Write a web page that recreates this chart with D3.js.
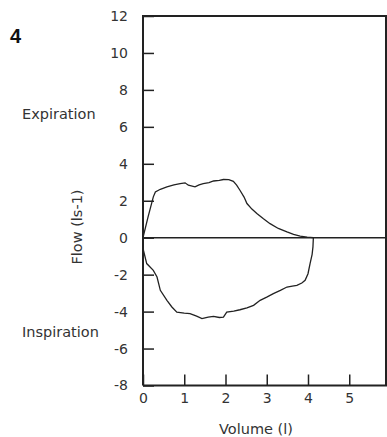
<!DOCTYPE html>
<html>
<head>
<meta charset="utf-8">
<script src="https://cdn.jsdelivr.net/npm/d3@7"></script>
<style>
body { margin: 0; background: #fff; }
svg { display: block; }
.axis text { font-family: "DejaVu Sans", sans-serif; font-size: 14px; fill: #333; }
.lbl { font-family: "DejaVu Sans", sans-serif; font-size: 14.5px; fill: #333; }
</style>
</head>
<body>
<script>
var w = 387;
var h = 437;

// flow-volume loop
var expVolume = [0, 0.12, 0.25, 0.30, 0.42, 0.58, 0.75, 0.90, 1.02, 1.10, 1.26, 1.36, 1.46, 1.60, 1.71, 1.85, 1.95, 2.08, 2.19, 2.27, 2.35, 2.45, 2.52, 2.64, 2.76, 2.92, 3.08, 3.28, 3.49, 3.65, 3.81, 3.98, 4.13];
var expFlow   = [0, 1.1, 2.21, 2.48, 2.62, 2.75, 2.86, 2.93, 2.97, 2.84, 2.75, 2.86, 2.93, 2.98, 3.07, 3.10, 3.15, 3.14, 3.05, 2.85, 2.57, 2.20, 1.85, 1.55, 1.31, 1.02, 0.76, 0.50, 0.31, 0.18, 0.08, 0.03, 0];

var insVolume = [0, 0.01, 0.09, 0.25, 0.34, 0.42, 0.58, 0.70, 0.82, 1.00, 1.14, 1.30, 1.43, 1.58, 1.71, 1.85, 1.95, 2.03, 2.20, 2.35, 2.52, 2.68, 2.84, 3.00, 3.16, 3.33, 3.49, 3.62, 3.73, 3.85, 3.93, 4.00, 4.05, 4.10, 4.12, 4.13];
var insFlow   = [0, -0.68, -1.40, -1.77, -2.13, -2.85, -3.39, -3.75, -4.03, -4.08, -4.11, -4.25, -4.38, -4.30, -4.26, -4.32, -4.30, -4.03, -3.98, -3.90, -3.80, -3.66, -3.39, -3.22, -3.03, -2.85, -2.67, -2.62, -2.58, -2.45, -2.31, -1.95, -1.40, -0.90, -0.50, 0];

var yTicks = [-8, -6, -4, -2, 0, 2, 4, 6, 8, 10, 12];
var xTicks = [0, 1, 2, 3, 4, 5, 6];

var xScale = d3.scaleLinear().domain([0, 6]).range([143, 390.5]);
var yScale = d3.scaleLinear().domain([-8, 12]).range([385.5, 16]);

var svg = d3.select("body").append("svg")
    .attr("width", w)
    .attr("height", h);

var ink = "#222";

// frame
svg.append("path")
    .attr("d", "M" + xScale(0) + "," + yScale(-8) + "V" + yScale(12) + "H386V" + yScale(-8))
    .attr("fill", "none")
    .attr("stroke", ink)
    .attr("stroke-width", 2);
svg.append("line")
    .attr("x1", xScale(0)).attr("x2", 387)
    .attr("y1", yScale(-8)).attr("y2", yScale(-8))
    .attr("stroke", ink).attr("stroke-width", 2);

var yAxis = d3.axisLeft(yScale)
    .tickValues(yTicks)
    .tickSizeInner(-11)
    .tickSizeOuter(0)
    .tickPadding(15)
    .tickFormat(function(d) { return d < 0 ? "-" + (-d) : d; });
var gy = svg.append("g")
    .attr("class", "axis")
    .attr("transform", "translate(" + xScale(0) + ",0)")
    .call(yAxis);
gy.select(".domain").remove();
gy.selectAll(".tick line").attr("stroke", ink).attr("stroke-width", 1.5);

var xAxis = d3.axisBottom(xScale)
    .tickValues(xTicks)
    .tickSizeInner(-11)
    .tickSizeOuter(0)
    .tickPadding(8)
    .tickFormat(d3.format("d"));
var gx = svg.append("g")
    .attr("class", "axis")
    .attr("transform", "translate(0," + yScale(-8) + ")")
    .call(xAxis);
gx.select(".domain").remove();
gx.selectAll(".tick line").attr("stroke", ink).attr("stroke-width", 1.5);

// zero line
svg.append("line")
    .attr("x1", xScale(0)).attr("x2", 387)
    .attr("y1", yScale(0)).attr("y2", yScale(0))
    .attr("stroke", ink).attr("stroke-width", 1.5);

var line = d3.line()
    .x(function(d) { return xScale(d[0]); })
    .y(function(d) { return yScale(d[1]); });

svg.append("path")
    .datum(d3.zip(expVolume, expFlow))
    .attr("d", line)
    .attr("fill", "none")
    .attr("stroke", ink)
    .attr("stroke-width", 1.3);

svg.append("path")
    .datum(d3.zip(insVolume, insFlow))
    .attr("d", line)
    .attr("fill", "none")
    .attr("stroke", ink)
    .attr("stroke-width", 1.3);

// labels
svg.append("text")
    .attr("x", 10).attr("y", 43)
    .attr("font-family", "Liberation Sans, Arial, sans-serif")
    .attr("font-weight", "bold")
    .attr("font-size", "20px")
    .attr("fill", "#111")
    .text("4");

svg.append("text").attr("class", "lbl")
    .attr("x", 22).attr("y", 119)
    .text("Expiration");
svg.append("text").attr("class", "lbl")
    .attr("x", 22).attr("y", 337)
    .text("Inspiration");

svg.append("text").attr("class", "lbl")
    .attr("transform", "translate(82,227) rotate(-90)")
    .attr("text-anchor", "middle")
    .text("Flow (ls-1)");

svg.append("text").attr("class", "lbl")
    .attr("x", 256).attr("y", 434)
    .attr("text-anchor", "middle")
    .text("Volume (l)");
</script>
</body>
</html>
